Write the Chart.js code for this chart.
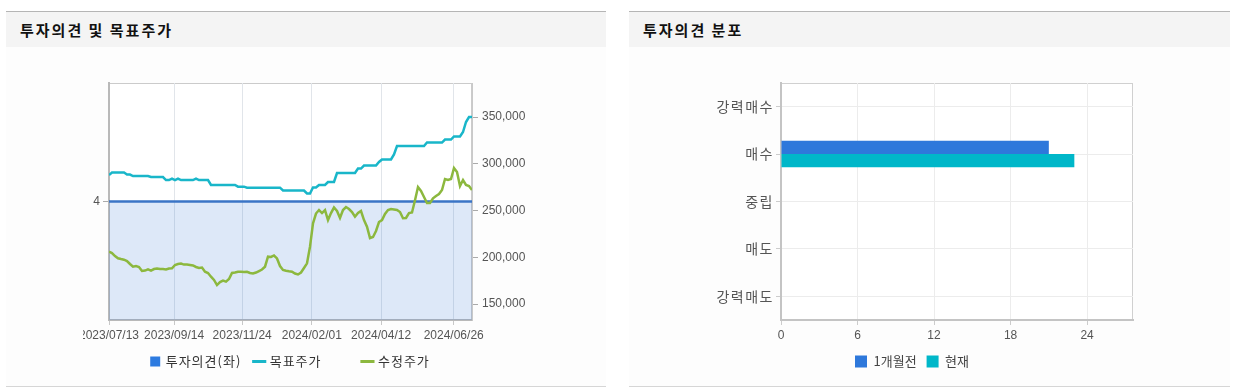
<!DOCTYPE html>
<html>
<head>
<meta charset="utf-8">
<script src="https://cdn.jsdelivr.net/npm/chart.js@4.4.1/dist/chart.umd.min.js"></script>
<style>
html,body{margin:0;padding:0;background:#fff;width:1239px;height:391px;overflow:hidden;font-family:"Noto Sans CJK KR",sans-serif;}
.panel{position:absolute;top:11px;height:374px;border-top:1px solid #b5b5b5;border-bottom:1px solid #d6d6d6;background:#fdfdfd;}
.head{height:35px;background:#f4f4f4;font-weight:bold;font-size:15px;letter-spacing:2px;color:#111;line-height:35px;padding-left:14px;}
canvas{position:absolute;}
</style>
</head>
<body>
<div class="panel" style="left:6px;width:600px;"><div class="head">투자의견 및 목표주가</div></div>
<div class="panel" style="left:629px;width:601px;"><div class="head">투자의견 분포</div></div>
<canvas id="left" width="523" height="337" style="left:83px;top:48px;"></canvas>
<canvas id="right" width="601" height="337" style="left:629px;top:48px;"></canvas>
<script>
// ---------- data: 투자의견 및 목표주가 ----------
const dateLabels = ['2023/07/13','2023/09/14','2023/11/24','2024/02/01','2024/04/12','2024/06/26'];
const dateLabelIndex = [0, 21.7, 44.4, 67.6, 90.7, 114.9];
const priceTicks = [150000, 200000, 250000, 300000, 350000];
const opinionTicks = [4];
const opinionPeriod = [{day: 0, value: 4}, {day: 121, value: 4}];
const targetPrice = [
  288000,290600,290600,290600,290600,290600,288500,288500,286900,286900,
  286900,286900,286900,286900,285800,285800,285800,285800,285800,282600,
  282600,284200,282600,284200,282600,282600,282600,282600,282600,284200,
  282600,282600,282600,282600,277300,277300,277300,277300,277300,277300,
  277300,277300,277300,275500,275500,275500,274400,274400,274400,274400,
  274400,274400,274400,274400,274400,274400,274400,274400,271400,271400,
  271400,271400,271400,271400,271400,271400,268200,268200,274600,274600,
  277300,277300,277300,280500,280500,280500,290100,290100,290100,290100,
  290100,290100,290100,294900,294900,298100,298100,298100,298100,298100,
  301900,304600,304600,304600,304600,310000,319000,319000,319000,319000,
  319000,319000,319000,319000,319000,319000,322700,322700,322700,322700,
  322700,322700,325900,325900,325900,329200,329200,329200,334000,344700,
  350000,350000
];
const adjustedPrice = [
  205900,204500,201300,198900,198100,197400,196000,192800,189900,190600,
  189600,185300,185800,187100,185800,187400,188000,187400,187400,186900,
  188000,188200,191700,192800,193300,192200,192200,191700,191200,189600,
  188500,189000,184500,183200,179200,175700,170300,173500,175100,173900,
  176700,183200,183700,184500,184500,184200,184500,183200,182600,183700,
  185300,186900,189900,200600,200300,201900,198700,190600,186400,185600,
  185000,184500,182600,181600,183700,188500,193500,211300,236300,246800,
  250500,247300,250500,239800,247300,253200,249500,242000,250500,253700,
  251600,248400,243400,247300,249500,239800,232700,220600,221700,228100,
  237700,239800,246300,250500,251600,251100,250500,248400,241700,242000,
  247300,247900,261000,275100,270900,264400,258000,258000,263000,265500,
  267600,271900,283700,282600,283700,295500,291200,276200,282600,277300,
  276200,271900
];

// ---------- data: 투자의견 분포 ----------
const opinionCategories = ['강력매수','매수','중립','매도','강력매도'];
const monthAgoCounts = [0, 21, 0, 0, 0];
const currentCounts = [0, 23, 0, 0, 0];
const countTicks = [0, 6, 12, 18, 24];

// ---------- helpers ----------
const framePlugin = {
  id: 'frame',
  beforeDraw(chart, args, opts) {
    const {ctx, chartArea: a} = chart;
    ctx.save();
    ctx.fillStyle = '#ffffff';
    ctx.fillRect(a.left, a.top, a.right - a.left, a.bottom - a.top);
    ctx.strokeStyle = opts.color || '#cccccc';
    ctx.lineWidth = 1;
    ctx.strokeRect(a.left + 0.5, a.top + 0.5, a.right - a.left - 1, a.bottom - a.top - 1);
    ctx.restore();
  }
};
// letter spacing for text drawn in layers before the datasets (left chart legend)
const spacingBefore = {
  id: 'spacingBefore',
  beforeUpdate(chart) { chart.ctx.letterSpacing = '1px'; },
  beforeDraw(chart) { chart.ctx.letterSpacing = '1px'; },
  beforeDatasetsDraw(chart) { chart.ctx.letterSpacing = '0px'; }
};
// letter spacing for tick labels drawn after the datasets (right chart category labels)
const spacingAfter = {
  id: 'spacingAfter',
  beforeDraw(chart) { chart.ctx.letterSpacing = '0px'; },
  afterDatasetsDraw(chart) { chart.ctx.letterSpacing = '1.5px'; },
  afterDraw(chart) { chart.ctx.letterSpacing = '0px'; }
};
const numFont = {family: '"Liberation Sans", Arial, sans-serif', size: 12};
const krFont = {family: '"Noto Sans CJK KR", sans-serif', size: 13};
const krTickFont = {family: '"Noto Sans CJK KR", sans-serif', size: 14};
const legendGap = ['\u0020', '\u3000\u3000\u0020', ''];

// ---------- left chart ----------
new Chart(document.getElementById('left'), {
  type: 'line',
  data: {
    datasets: [
      {
        label: '투자의견(좌)',
        data: opinionPeriod.map(p => ({x: p.day, y: p.value})),
        yAxisID: 'yOp', borderColor: '#3a74c6', borderWidth: 2.5,
        backgroundColor: 'rgba(46,110,214,0.16)', fill: 'start',
        pointRadius: 0, order: 3
      },
      {
        label: '목표주가',
        data: targetPrice.map((v, i) => ({x: i, y: v})),
        yAxisID: 'yPrice', borderColor: '#19b6c9', borderWidth: 2.5,
        pointRadius: 0, fill: false, order: 1
      },
      {
        label: '수정주가',
        data: adjustedPrice.map((v, i) => ({x: i, y: v})),
        yAxisID: 'yPrice', borderColor: '#8cb83e', borderWidth: 2.5,
        pointRadius: 0, fill: false, order: 2
      }
    ]
  },
  options: {
    responsive: false, animation: false, devicePixelRatio: 1,
    layout: {padding: {left: 0, right: 0, top: 35, bottom: 7}},
    scales: {
      x: {
        type: 'linear', min: 0, max: targetPrice.length - 1,
        afterBuildTicks: s => { s.ticks = dateLabelIndex.map(v => ({value: v})); },
        ticks: {z: 1, callback: (v, i) => dateLabels[i], autoSkip: false, maxRotation: 0, padding: 3, font: numFont, color: '#555'},
        grid: {color: '#e1e5ea', tickLength: 5, tickColor: '#c8c8c8'},
        border: {color: '#b9b9b9', width: 2},
        afterFit: s => { s.height = 25; s.paddingLeft = 0; s.paddingRight = 0; }
      },
      yOp: {
        position: 'left', min: 3, max: 5,
        afterBuildTicks: s => { s.ticks = opinionTicks.map(v => ({value: v})); },
        ticks: {z: 1, padding: 3, font: numFont, color: '#555'},
        grid: {drawOnChartArea: false, tickLength: 6, tickColor: '#aaaaaa'},
        border: {color: '#b9b9b9', width: 2},
        afterFit: s => { s.width = 26; s.paddingTop = 0; s.paddingBottom = 0; }
      },
      yPrice: {
        position: 'right', min: 132900, max: 386400,
        afterBuildTicks: s => { s.ticks = priceTicks.map(v => ({value: v})); },
        ticks: {z: 1, callback: v => v.toLocaleString('en-US'), padding: 4, font: numFont, color: '#555'},
        grid: {drawOnChartArea: false, tickLength: 6, tickColor: '#aaaaaa'},
        border: {color: '#c9c9c9', width: 1},
        afterFit: s => { s.width = 134; s.paddingTop = 0; s.paddingBottom = 0; }
      }
    },
    plugins: {
      frame: {color: '#cbcbcb'},
      tooltip: {enabled: false},
      legend: {
        position: 'bottom', fullSize: false,
        labels: {
          usePointStyle: true, boxWidth: 8, boxHeight: 10, padding: 10,
          font: krFont, color: '#333',
          generateLabels: chart => chart.data.datasets.map((d, i) => ({
            text: d.label + legendGap[i],
            fillStyle: i === 0 ? '#2d7be0' : d.borderColor,
            strokeStyle: i === 0 ? '#2d7be0' : d.borderColor,
            lineWidth: i === 0 ? 0 : 3,
            pointStyle: i === 0 ? 'rect' : 'line',
            datasetIndex: i, hidden: false, fontColor: '#333'
          }))
        }
      }
    }
  },
  plugins: [framePlugin, spacingBefore]
});

// ---------- right chart ----------
new Chart(document.getElementById('right'), {
  type: 'bar',
  data: {
    labels: opinionCategories,
    datasets: [
      {label: '1개월전', data: monthAgoCounts, backgroundColor: '#2e78db', categoryPercentage: 0.56, barPercentage: 1},
      {label: '현재', data: currentCounts, backgroundColor: '#00b7c9', categoryPercentage: 0.56, barPercentage: 1}
    ]
  },
  options: {
    indexAxis: 'y',
    responsive: false, animation: false, devicePixelRatio: 1,
    layout: {padding: {left: 62, right: 97, top: 35, bottom: 7}},
    scales: {
      x: {
        min: 0, max: 27.6,
        afterBuildTicks: s => { s.ticks = countTicks.map(v => ({value: v})); },
        ticks: {padding: 3, font: numFont, color: '#555'},
        grid: {color: '#ececec', tickLength: 5, tickColor: '#cccccc'},
        border: {color: '#c4c4c4', width: 2},
        afterFit: s => { s.height = 25; s.paddingLeft = 0; s.paddingRight = 0; }
      },
      y: {
        grid: {offset: false, color: '#ececec', tickLength: 5, tickColor: '#cccccc'},
        border: {color: '#c4c4c4', width: 2},
        ticks: {z: 1, padding: 2, font: krTickFont, color: '#555'},
        afterFit: s => { s.width = 90; s.paddingTop = 0; s.paddingBottom = 0; }
      }
    },
    plugins: {
      frame: {color: '#d0d0d0'},
      tooltip: {enabled: false},
      legend: {
        position: 'bottom',
        labels: {boxWidth: 12, boxHeight: 12, padding: 10, font: krFont, color: '#444'}
      }
    }
  },
  plugins: [framePlugin, spacingAfter]
});
</script>
</body>
</html>
